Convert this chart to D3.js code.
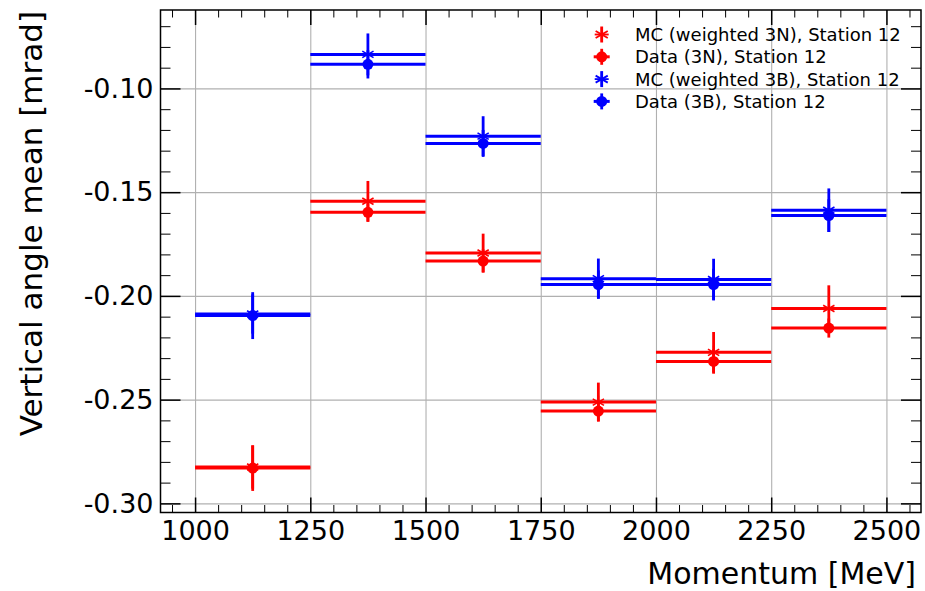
<!DOCTYPE html>
<html>
<head>
<meta charset="utf-8">
<script src="https://cdn.jsdelivr.net/npm/d3@7"></script>
<style>
  html, body { margin: 0; padding: 0; background: #fff; }
  svg { display: block; font-family: "DejaVu Sans", sans-serif; }
</style>
</head>
<body>
<svg id="chart" width="925" height="591"></svg>
<script>
// Momentum bins [MeV]
const binEdges = [1000, 1250, 1500, 1750, 2000, 2250, 2500];

// Vertical angle mean [mrad] per bin, with uncertainties
const mc3N      = [-0.2825, -0.1544, -0.1793, -0.2512, -0.2272, -0.2061];
const mc3NErr   = [ 0.0104,  0.0098,  0.0093,  0.0094,  0.0098,  0.0112];
const data3N    = [-0.2830, -0.1597, -0.1832, -0.2555, -0.2316, -0.2155];
const data3NErr = [ 0.0110,  0.0046,  0.0056,  0.0049,  0.0059,  0.0046];
const mc3B      = [-0.2087, -0.0836, -0.1230, -0.1917, -0.1921, -0.1587];
const mc3BErr   = [ 0.0095,  0.0101,  0.0096,  0.0097,  0.0100,  0.0105];
const data3B    = [-0.2095, -0.0884, -0.1265, -0.1945, -0.1945, -0.1613];
const data3BErr = [ 0.0113,  0.0068,  0.0065,  0.0068,  0.0076,  0.0079];

const xTicks = [1000, 1250, 1500, 1750, 2000, 2250, 2500];
const yTicks = [-0.30, -0.25, -0.20, -0.15, -0.10];
const xLabel = "Momentum [MeV]";
const yLabel = "Vertical angle mean [mrad]";

const seriesNames = [
  "MC (weighted 3N), Station 12",
  "Data (3N), Station 12",
  "MC (weighted 3B), Station 12",
  "Data (3B), Station 12"
];

const RED = "#ff0000", BLUE = "#0000ff";
const series = [
  { name: seriesNames[0], values: mc3N,   errs: mc3NErr,   color: RED,  kind: "mc" },
  { name: seriesNames[1], values: data3N, errs: data3NErr, color: RED,  kind: "data" },
  { name: seriesNames[2], values: mc3B,   errs: mc3BErr,   color: BLUE, kind: "mc" },
  { name: seriesNames[3], values: data3B, errs: data3BErr, color: BLUE, kind: "data" }
];

const svg = d3.select("#chart");
const L = 160.5, R = 921, T = 10, B = 512.5;

const x = d3.scaleLinear().domain([925, 2575]).range([L, R]);
const y = d3.scaleLinear().domain([-0.3044, -0.0622]).range([B, T]);

const xMinor = d3.range(950, 2576, 50).filter(v => v % 250 !== 0);
const yMinor = d3.range(-30, -6, 1).map(v => v / 100).filter(v => Math.round(v * 100) % 5 !== 0);

// grid
const grid = svg.append("g").attr("class", "grid");
grid.append("g").attr("transform", `translate(0,${B})`)
  .call(d3.axisBottom(x).tickValues(xTicks).tickSize(-(B - T)).tickFormat(""))
  .call(g => g.select(".domain").remove());
grid.append("g").attr("transform", `translate(${L},0)`)
  .call(d3.axisLeft(y).tickValues(yTicks).tickSize(-(R - L)).tickFormat(""))
  .call(g => g.select(".domain").remove());
grid.selectAll("line").attr("stroke", "#b0b0b0").attr("stroke-width", 1.1);

// data
const plot = svg.append("g");
const bins = d3.range(binEdges.length - 1).map(i => ({
  lo: binEdges[i], hi: binEdges[i + 1], mid: (binEdges[i] + binEdges[i + 1]) / 2, i
}));

function asterisk(g, cx, cy, r, color, sw) {
  [30, 90, 150].forEach(a => {
    const rad = a * Math.PI / 180;
    g.append("line")
      .attr("x1", cx - r * Math.cos(rad)).attr("y1", cy - r * Math.sin(rad))
      .attr("x2", cx + r * Math.cos(rad)).attr("y2", cy + r * Math.sin(rad))
      .attr("stroke", color).attr("stroke-width", sw);
  });
  g.append("line")
    .attr("x1", cx - r).attr("y1", cy).attr("x2", cx + r).attr("y2", cy)
    .attr("stroke", color).attr("stroke-width", sw);
}

series.forEach(s => {
  const g = plot.append("g");
  bins.forEach(b => {
    const v = s.values[b.i], e = s.errs[b.i];
    g.append("line")
      .attr("x1", x(b.lo)).attr("x2", x(b.hi))
      .attr("y1", y(v)).attr("y2", y(v))
      .attr("stroke", s.color).attr("stroke-width", 3);
    g.append("line")
      .attr("x1", x(b.mid)).attr("x2", x(b.mid))
      .attr("y1", y(v - e)).attr("y2", y(v + e))
      .attr("stroke", s.color).attr("stroke-width", 2.8);
    if (s.kind === "data") {
      g.append("circle").attr("cx", x(b.mid)).attr("cy", y(v)).attr("r", 5.5).attr("fill", s.color);
    } else {
      asterisk(g, x(b.mid), y(v), 6.5, s.color, 1.6);
    }
  });
});

// axes with inward ticks
const axes = svg.append("g");
function styleAxis(g) {
  g.select(".domain").remove();
  g.selectAll("line").attr("stroke", "#000");
}
axes.append("g").attr("transform", `translate(0,${B})`)
  .call(d3.axisBottom(x).tickValues(xTicks).tickSize(-15).tickPadding(8).tickFormat(d3.format("d")))
  .call(styleAxis)
  .call(g => g.selectAll("line").attr("stroke-width", 1.5))
  .call(g => g.selectAll("text").attr("font-size", 27).attr("fill", "#000").attr("font-family", "DejaVu Sans"));
axes.append("g").attr("transform", `translate(0,${B})`)
  .call(d3.axisBottom(x).tickValues(xMinor).tickSize(-7.5).tickFormat(""))
  .call(styleAxis).call(g => g.selectAll("line").attr("stroke-width", 1));
axes.append("g").attr("transform", `translate(0,${T})`)
  .call(d3.axisTop(x).tickValues(xTicks).tickSize(-15).tickFormat(""))
  .call(styleAxis).call(g => g.selectAll("line").attr("stroke-width", 1.5));
axes.append("g").attr("transform", `translate(0,${T})`)
  .call(d3.axisTop(x).tickValues(xMinor).tickSize(-7.5).tickFormat(""))
  .call(styleAxis).call(g => g.selectAll("line").attr("stroke-width", 1));

axes.append("g").attr("transform", `translate(${L},0)`)
  .call(d3.axisLeft(y).tickValues(yTicks).tickSize(-20).tickPadding(7).tickFormat(d => d.toFixed(2)))
  .call(styleAxis)
  .call(g => g.selectAll("line").attr("stroke-width", 1.5))
  .call(g => g.selectAll("text").attr("font-size", 27).attr("fill", "#000").attr("font-family", "DejaVu Sans"));
axes.append("g").attr("transform", `translate(${L},0)`)
  .call(d3.axisLeft(y).tickValues(yMinor).tickSize(-10).tickFormat(""))
  .call(styleAxis).call(g => g.selectAll("line").attr("stroke-width", 1));
axes.append("g").attr("transform", `translate(${R},0)`)
  .call(d3.axisRight(y).tickValues(yTicks).tickSize(-20).tickFormat(""))
  .call(styleAxis).call(g => g.selectAll("line").attr("stroke-width", 1.5));
axes.append("g").attr("transform", `translate(${R},0)`)
  .call(d3.axisRight(y).tickValues(yMinor).tickSize(-10).tickFormat(""))
  .call(styleAxis).call(g => g.selectAll("line").attr("stroke-width", 1));

// frame
svg.append("rect").attr("x", L).attr("y", T).attr("width", R - L).attr("height", B - T)
  .attr("fill", "none").attr("stroke", "#000").attr("stroke-width", 1.5);

// axis titles
svg.append("text").attr("x", 916).attr("y", 584).attr("text-anchor", "end")
  .attr("font-size", 30).attr("fill", "#000").text(xLabel);
svg.append("text").attr("transform", "translate(42,11) rotate(-90)").attr("text-anchor", "end")
  .attr("font-size", 31).attr("fill", "#000").text(yLabel);

// legend
const legend = svg.append("g");
const legRows = [34.5, 56.8, 79.1, 101.4];
series.forEach((s, k) => {
  const cy = legRows[k], cx = 601.7;
  const g = legend.append("g");
  g.append("line").attr("x1", cx).attr("x2", cx).attr("y1", cy - 8).attr("y2", cy + 8)
    .attr("stroke", s.color).attr("stroke-width", 2.8);
  if (s.kind === "data") {
    g.append("line").attr("x1", cx - 8).attr("x2", cx + 8).attr("y1", cy).attr("y2", cy)
      .attr("stroke", s.color).attr("stroke-width", 3);
    g.append("circle").attr("cx", cx).attr("cy", cy).attr("r", 5.5).attr("fill", s.color);
  } else {
    asterisk(g, cx, cy, 7, s.color, 1.8);
  }
  g.append("text").attr("x", 635).attr("y", cy + 6.5).attr("font-size", 18).attr("fill", "#000").text(s.name);
});
</script>
</body>
</html>
